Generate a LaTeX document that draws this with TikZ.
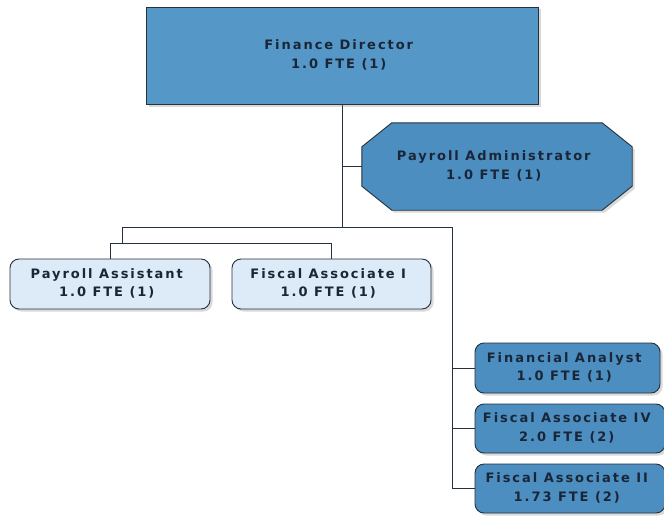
\documentclass[tikz,border=0pt]{standalone}
\usepackage{fontspec}
\usepackage{tikz}
\usetikzlibrary{shadows,backgrounds}
\newfontfamily\orgfont[LetterSpace=15]{DejaVu Sans}
\definecolor{darkfill}{HTML}{4C8EBF}
\definecolor{topfill}{HTML}{5597C7}
\definecolor{lightfill}{HTML}{DCEBF7}
\definecolor{edgecol}{HTML}{25313D}
\definecolor{textcol}{HTML}{1A2638}

\tikzset{
  orgtext/.style={text=textcol, align=center, inner sep=0pt,
    font=\fontsize{13pt}{18.5pt}\selectfont\orgfont\bfseries},
  shade/.style={drop shadow={opacity=0.3, shadow xshift=2.5pt, shadow yshift=-2.5pt}},
  topbox/.style={orgtext, draw=edgecol, line width=0.9pt, fill=topfill, shade},
  darkbox/.style={orgtext, draw=edgecol, line width=0.9pt, fill=darkfill,
    rounded corners=9pt, shade},
  lightbox/.style={orgtext, draw=edgecol, line width=0.9pt, fill=lightfill,
    rounded corners=9pt, shade},
  octpath/.style={draw=edgecol, line width=0.9pt, fill=darkfill, shade},
  link/.style={draw=edgecol, line width=0.8pt}
}

\begin{document}
\begin{tikzpicture}
    \useasboundingbox (0pt,0pt) rectangle (664pt,-519pt);

    % FIRST LAYER
    \node[topbox, minimum width=392pt, minimum height=97pt]
      (DIRECTOR) at (342pt,-55.5pt)
    {
      \begin{tabular}{c}
        Finance Director \\
        1.0 FTE (1)
      \end{tabular}
    };

    % OCTAGON
    \node[orgtext, minimum width=270pt, minimum height=87pt]
      (PAYROLL_ADMIN) at (497pt,-166.5pt)
    {
      \begin{tabular}{c}
        Payroll Administrator \\
        1.0 FTE (1)
      \end{tabular}
    };
    \begin{scope}[on background layer]
      \path[octpath]
        ([xshift=30pt]PAYROLL_ADMIN.north west) -- ([xshift=-30pt]PAYROLL_ADMIN.north east)
        -- ([yshift=-24pt]PAYROLL_ADMIN.north east) -- ([yshift=24pt]PAYROLL_ADMIN.south east)
        -- ([xshift=-30pt]PAYROLL_ADMIN.south east) -- ([xshift=30pt]PAYROLL_ADMIN.south west)
        -- ([yshift=24pt]PAYROLL_ADMIN.south west) -- ([yshift=-24pt]PAYROLL_ADMIN.north west)
        -- cycle;
    \end{scope}

    % SECOND LAYER
    \node[lightbox, minimum width=200pt, minimum height=50pt]
      (PAYROLL_ASSIST) at (110pt,-284pt)
    {
      \begin{tabular}{c}
        Payroll Assistant \\
        1.0 FTE (1)
      \end{tabular}
    };
    \node[lightbox, minimum width=199pt, minimum height=50pt]
      (FISCAL_1) at (331.5pt,-284pt)
    {
      \begin{tabular}{c}
        Fiscal Associate I \\
        1.0 FTE (1)
      \end{tabular}
    };

    % RIGHT COLUMN
    \node[darkbox, minimum width=185pt, minimum height=50pt]
      (ANALYST) at (567.5pt,-368pt)
    {
      \begin{tabular}{c}
        Financial Analyst \\
        1.0 FTE (1)
      \end{tabular}
    };
    \node[darkbox, minimum width=190pt, minimum height=49pt]
      (FISCAL_4) at (570pt,-428.5pt)
    {
      \begin{tabular}{c}
        Fiscal Associate IV \\
        2.0 FTE (2)
      \end{tabular}
    };
    \node[darkbox, minimum width=190pt, minimum height=49pt]
      (FISCAL_2) at (570pt,-488.5pt)
    {
      \begin{tabular}{c}
        Fiscal Associate II \\
        1.73 FTE (2)
      \end{tabular}
    };

    % LINES
    \coordinate (LEFT_J) at (122pt,-227pt);
    \coordinate (RIGHT_J) at (452pt,-227pt);
    \coordinate (SUB_J) at (122pt,-243pt);
    \begin{scope}[on background layer]
      \path[link]
      (DIRECTOR.south) -- (DIRECTOR.south |- LEFT_J)
      (DIRECTOR.south |- PAYROLL_ADMIN.west) -- (PAYROLL_ADMIN.west)
      (LEFT_J) -- (RIGHT_J)
      (LEFT_J) -- (SUB_J)
      (PAYROLL_ASSIST.north) |- (FISCAL_1.north |- SUB_J) -- (FISCAL_1.north)
      (RIGHT_J) |- (FISCAL_2.west)
      (RIGHT_J |- ANALYST.west) -- (ANALYST.west)
      (RIGHT_J |- FISCAL_4.west) -- (FISCAL_4.west)
      ;
    \end{scope}
\end{tikzpicture}
\end{document}
